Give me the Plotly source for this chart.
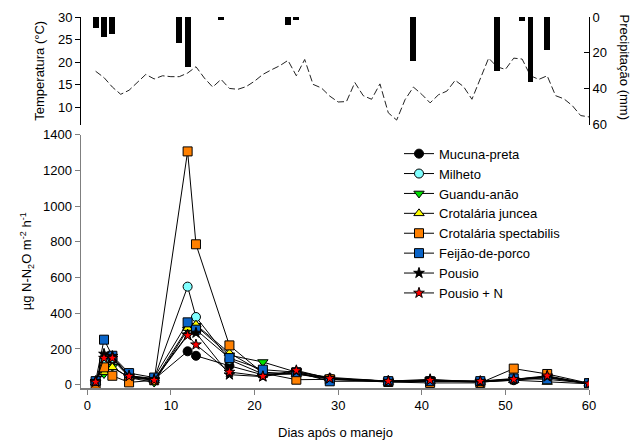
import plotly.graph_objects as go

# ---------------- data ----------------
days = [1, 2, 3, 5, 8, 12, 13, 17, 21, 25, 29, 36, 41, 47, 51, 55, 60]

mucuna = [15, 130, 140, 45, 30, 187, 162, 106, 55, 60, 30, 18, 22, 15, 25, 40, 5]
milheto = [12, 140, 150, 50, 35, 549, 379, 140, 60, 65, 35, 20, 20, 18, 30, 45, 8]
guandu = [10, 60, 100, 40, 12, 308, 330, 165, 127, 70, 41, 20, 25, 18, 30, 40, 6]
juncea = [12, 70, 97, 40, 25, 317, 336, 177, 70, 60, 35, 15, 20, 15, 25, 15, 5]
spectabilis = [5, 97, 50, 13, 25, 1306, 786, 220, 65, 28, 30, 15, 10, 10, 90, 60, 8]
feijao = [20, 252, 162, 65, 40, 349, 308, 149, 84, 70, 19, 20, 20, 20, 35, 30, 8]
pousio = [20, 172, 160, 50, 30, 280, 290, 56, 45, 75, 35, 20, 30, 15, 30, 45, 5]
pousio_n = [15, 149, 149, 47, 25, 276, 224, 71, 47, 80, 35, 20, 25, 20, 30, 50, 5]

temp_days = list(range(1, 61))
temperature = [18.0, 16.6, 14.5, 12.9, 13.8, 15.5, 17.3, 16.3, 17.0, 16.8,
               16.8, 17.6, 19.0, 16.5, 14.5, 16.2, 14.2, 14.0, 14.6, 15.8,
               17.3, 18.3, 19.2, 20.4, 17.0, 20.6, 15.1, 14.3, 12.5, 11.2,
               11.3, 15.5, 12.6, 11.8, 15.2, 8.8, 7.2, 11.7, 14.5, 12.9,
               11.0, 12.8, 13.6, 16.0, 14.6, 11.8, 16.2, 20.9, 19.0, 18.4,
               20.9, 20.7, 17.0, 16.2, 17.0, 12.6, 11.9, 10.4, 8.2, 7.9]

rain_days = [1, 2, 3, 11, 12, 16, 24, 25, 39, 49, 52, 53, 55]
rain_mm = [6.0, 11.4, 9.3, 14.5, 28.1, 1.5, 4.7, 1.9, 24.3, 30.3, 2.1, 36.2, 18.6]

names = ["Mucuna-preta", "Milheto", "Guandu-anão", "Crotalária juncea",
         "Crotalária spectabilis", "Feijão-de-porco", "Pousio", "Pousio + N"]
series = [mucuna, milheto, guandu, juncea, spectabilis, feijao, pousio, pousio_n]
symbols = ["circle", "circle", "triangle-down", "triangle-up", "square", "square",
           "star", "star"]
colors = ["#000000", "#80FFFF", "#00DD00", "#FFFF00", "#FF8000", "#0A64C8",
          "#000000", "#FF0000"]
sizes = [9, 9, 9, 9, 9, 9, 8, 8]

FONT = "Liberation Sans, Arial, sans-serif"
BLACK = "#000000"

fig = go.Figure()

for name, vals, sym, col, sz in zip(names, series, symbols, colors, sizes):
    fig.add_trace(go.Scatter(
        x=days, y=vals, mode="lines+markers", name=name,
        xaxis="x", yaxis="y",
        line=dict(color=BLACK, width=1),
        marker=dict(symbol=sym, color=col, size=sz,
                    line=dict(color=BLACK, width=1)),
    ))

# top panel: precipitation bars and temperature
fig.add_trace(go.Bar(x=rain_days, y=rain_mm, xaxis="x", yaxis="y4",
                     marker=dict(color=BLACK, line=dict(width=0)),
                     width=0.7, showlegend=False))
fig.add_trace(go.Scatter(x=temp_days, y=temperature, xaxis="x", yaxis="y3",
                         mode="lines", showlegend=False,
                         line=dict(color="#222222", width=1, dash="7px,3px")))

gray = "#7f7f7f"
tf = dict(family=FONT, size=13, color=BLACK)
fig.update_layout(
    width=633, height=445,
    margin=dict(l=81, r=44, t=17, b=57, autoexpand=False),
    paper_bgcolor="white", plot_bgcolor="white",
    font=dict(family=FONT, size=13, color=BLACK),
    showlegend=True,
    legend=dict(x=0.626, y=0.672, xanchor="left", yanchor="top",
                bgcolor="rgba(0,0,0,0)",
                font=dict(size=13, family=FONT, color=BLACK),
                tracegroupgap=0, itemwidth=30),
    xaxis=dict(domain=[0, 1], range=[-0.75, 60], anchor="y", automargin=False,
               tickmode="array", tickvals=[0, 10, 20, 30, 40, 50, 60],
               ticks="outside", ticklen=5, tickcolor=gray, tickfont=tf,
               showline=True, linecolor=gray, linewidth=1.5,
               showgrid=False, zeroline=False),
    yaxis=dict(domain=[0, 0.683], range=[-18.5, 1400], automargin=False,
               tickvals=[0, 200, 400, 600, 800, 1000, 1200, 1400],
               ticks="outside", ticklen=5, tickcolor=gray, tickfont=tf,
               showline=True, linecolor=gray, linewidth=1.5,
               showgrid=False, zeroline=False,
               title=dict(text="µg N-N<sub>2</sub>O m<sup>-2</sup> h<sup>-1</sup>",
                          standoff=8, font=tf)),
    yaxis2=dict(overlaying="y", side="right", anchor="x", automargin=False,
                range=[-18.5, 1400],
                tickvals=[0, 200, 400, 600, 800, 1000, 1200, 1400],
                ticks="inside", ticklen=5, tickcolor=gray,
                showticklabels=False,
                showline=True, linecolor=gray, linewidth=1.5,
                showgrid=False, zeroline=False),
    yaxis3=dict(domain=[0.71, 1], range=[6.2, 30], anchor="x", automargin=False,
                tickvals=[10, 15, 20, 25, 30], tickfont=tf,
                ticks="outside", ticklen=5, tickcolor=BLACK,
                showline=True, linecolor=BLACK, linewidth=1,
                showgrid=False, zeroline=False,
                title=dict(text="Temperatura (°C)", standoff=10, font=tf)),
    yaxis4=dict(overlaying="y3", side="right", anchor="x", automargin=False,
                range=[60, 0], tickvals=[0, 20, 40, 60], tickfont=tf,
                ticks="inside", ticklen=5, tickcolor=BLACK,
                showline=True, linecolor=BLACK, linewidth=1,
                showgrid=False, zeroline=False),
    xaxis2=dict(matches="x", anchor="y3", side="top", overlaying="x",
                automargin=False,
                showline=True, linecolor=BLACK, linewidth=1,
                showticklabels=False, ticks="", showgrid=False,
                zeroline=False),
    bargap=0,
    annotations=[
        dict(text="Dias após o manejo", xref="paper", yref="paper",
             x=0.5, y=-0.12, xanchor="center", yanchor="middle",
             showarrow=False, font=tf),
        dict(text="Precipitação (mm)", xref="paper", yref="paper",
             x=1.07, y=0.865, xanchor="center", yanchor="middle",
             textangle=90, showarrow=False, font=tf),
    ],
)

fig.write_html("out.html",
               config={"displayModeBar": False, "staticPlot": True},
               post_script="document.body.style.margin='0px';"
                           "document.body.style.overflow='hidden';")
